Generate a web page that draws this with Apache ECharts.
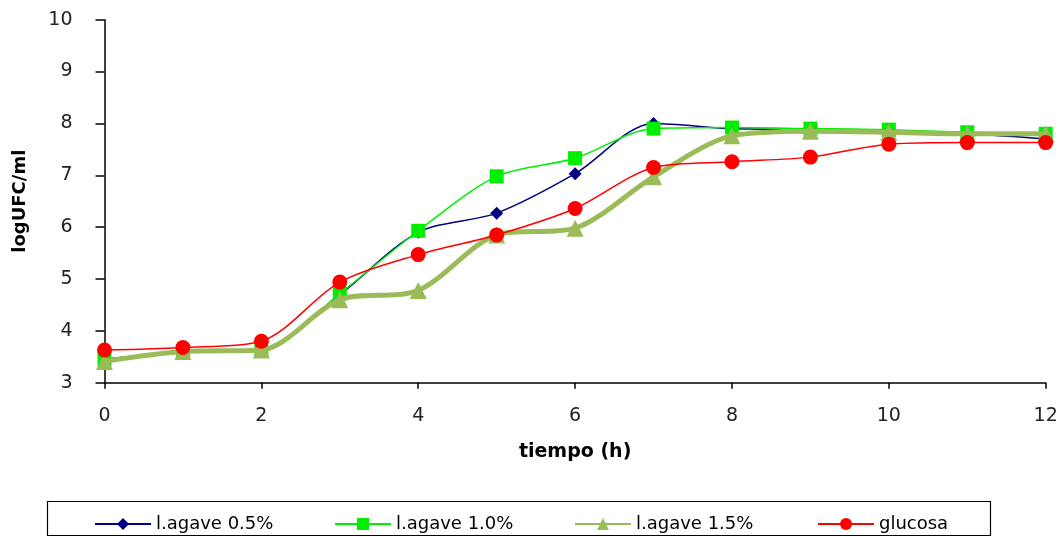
<!DOCTYPE html>
<html>
<head>
<meta charset="utf-8">
<script src="https://cdn.jsdelivr.net/npm/echarts@6/dist/echarts.min.js"></script>
<style>
html,body{margin:0;padding:0;background:#fff;}
#c{width:1061px;height:537px;}
</style>
</head>
<body>
<div id="c"></div>
<script>
const hours = [0,1,2,3,4,5,6,7,8,9,10,11,12];
const agave05 = [3.45,3.60,3.65,4.70,5.90,6.27,7.03,8.00,7.90,7.88,7.85,7.80,7.70];
const agave10 = [3.45,3.60,3.62,4.72,5.93,6.98,7.33,7.90,7.92,7.90,7.88,7.83,7.80];
const agave15 = [3.41,3.60,3.63,4.60,4.78,5.85,5.98,6.97,7.76,7.85,7.83,7.80,7.80];
const glucosa = [3.63,3.68,3.80,4.94,5.47,5.85,6.36,7.15,7.26,7.35,7.60,7.63,7.63];
const seriesNames = ['l.agave 0.5%','l.agave 1.0%','l.agave 1.5%','glucosa'];
const yTicks = [3,4,5,6,7,8,9,10];
const xTicks = [0,2,4,6,8,10,12];

const pairs = arr => hours.map((h,i)=>[h,arr[i]]);
const font = 'DejaVu Sans, Verdana, sans-serif';
const legendLefts = [89,329,569,812];

const chart = echarts.init(document.getElementById('c'), null, {renderer:'canvas'});
chart.setOption({
  animation:false,
  backgroundColor:'#fff',
  grid:{left:104.5,right:15.3,top:19.7,bottom:154.3,containLabel:false},
  xAxis:{
    type:'value',min:xTicks[0],max:xTicks[xTicks.length-1],interval:2,
    name:'tiempo (h)',nameLocation:'middle',nameGap:60,
    nameTextStyle:{fontFamily:font,fontSize:19,fontWeight:'bold',color:'#000'},
    axisLine:{show:true,lineStyle:{color:'#000',width:1.5}},
    axisTick:{show:true,length:6,lineStyle:{color:'#000',width:1.5}},
    axisLabel:{fontFamily:font,fontSize:19,color:'#222',margin:24},
    splitLine:{show:false}
  },
  yAxis:{
    type:'value',min:yTicks[0],max:yTicks[yTicks.length-1],interval:1,
    name:'logUFC/ml',nameLocation:'middle',nameGap:75,nameRotate:90,
    nameTextStyle:{fontFamily:font,fontSize:18,fontWeight:'bold',color:'#000'},
    axisLine:{show:true,lineStyle:{color:'#000',width:1.5}},
    axisTick:{show:true,length:9,lineStyle:{color:'#000',width:1.5}},
    axisLabel:{fontFamily:font,fontSize:19,color:'#222',margin:32},
    splitLine:{show:false}
  },
  legend:seriesNames.map((n,i)=>({
    left:legendLefts[i],top:510,itemWidth:56,itemHeight:15,
    textStyle:{fontFamily:font,fontSize:18,color:'#000'},
    data:[n]
  })),
  graphic:[{type:'rect',shape:{x:47.5,y:501.5,width:943,height:34},
    style:{fill:'none',stroke:'#000',lineWidth:1.2},silent:true,z:-1}],
  series:[
    {name:seriesNames[0],type:'line',data:pairs(agave05),smooth:0.3,
     symbol:'diamond',symbolSize:13,
     lineStyle:{color:'#000080',width:1.5},itemStyle:{color:'#000080'},z:2},
    {name:seriesNames[1],type:'line',data:pairs(agave10),smooth:0.3,
     symbol:'rect',symbolSize:14,
     lineStyle:{color:'#00ee00',width:1.5},itemStyle:{color:'#00ee00'},z:3},
    {name:seriesNames[2],type:'line',data:pairs(agave15),smooth:0.3,
     symbol:'triangle',symbolSize:17,
     lineStyle:{color:'#9bbb59',width:5},itemStyle:{color:'#9bbb59'},z:4},
    {name:seriesNames[3],type:'line',data:pairs(glucosa),smooth:0.3,
     symbol:'circle',symbolSize:15,
     lineStyle:{color:'#ff0000',width:1.5},itemStyle:{color:'#ff0000'},z:5}
  ]
});
</script>
</body>
</html>
